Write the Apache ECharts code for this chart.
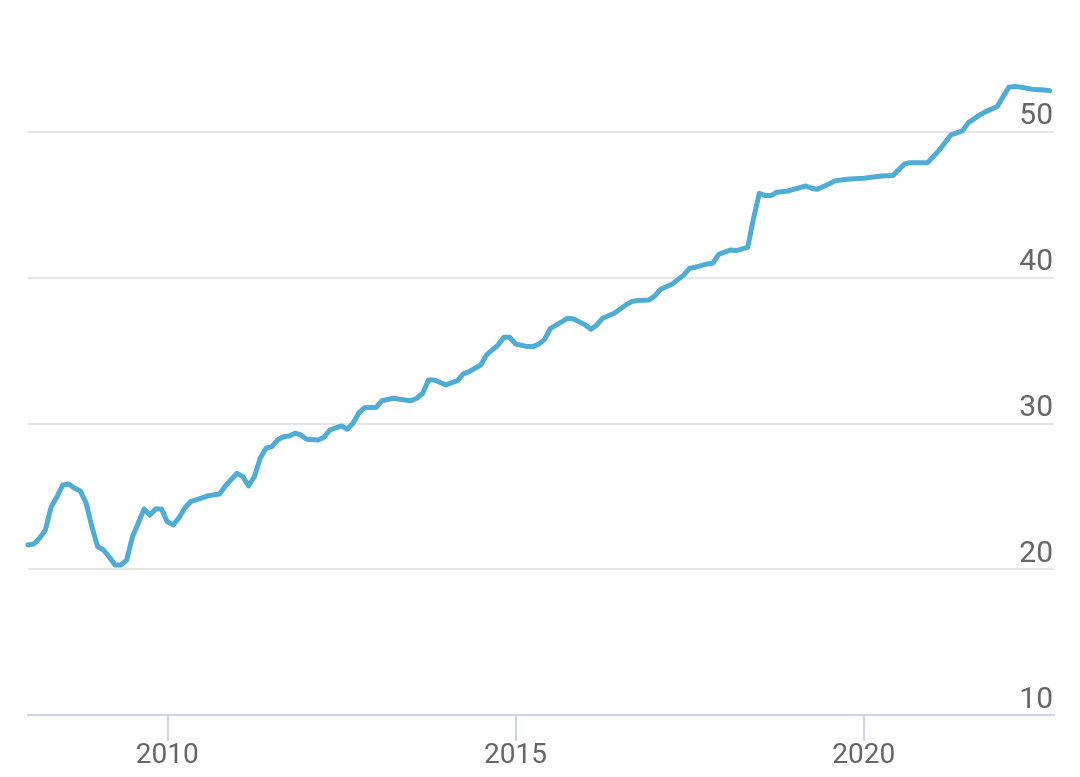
<!DOCTYPE html>
<html>
<head>
<meta charset="utf-8">
<script src="https://cdn.jsdelivr.net/npm/echarts@6/dist/echarts.min.js"></script>
<style>
html,body{margin:0;padding:0;background:#fff;}
#chart{width:1080px;height:777px;}
</style>
</head>
<body>
<div id="chart"></div>
<script>
const months = ['2008-01','2008-02','2008-03','2008-04','2008-05','2008-06','2008-07','2008-08','2008-09','2008-10','2008-11','2008-12',
'2009-01','2009-02','2009-03','2009-04','2009-05','2009-06','2009-07','2009-08','2009-09','2009-10','2009-11','2009-12',
'2010-01','2010-02','2010-03','2010-04','2010-05','2010-07','2010-08','2010-10','2010-11',
'2011-01','2011-02','2011-03','2011-04','2011-05','2011-06','2011-07','2011-08','2011-09','2011-10','2011-11','2011-12',
'2012-01','2012-03','2012-04','2012-05','2012-07','2012-08','2012-09','2012-10','2012-11',
'2013-01','2013-02','2013-04','2013-05','2013-07','2013-08','2013-09','2013-10','2013-11',
'2014-01','2014-03','2014-04','2014-05','2014-07','2014-08','2014-10','2014-11','2014-12',
'2015-01','2015-03','2015-04','2015-05','2015-06','2015-07','2015-09','2015-10','2015-11',
'2016-01','2016-02','2016-03','2016-04','2016-06','2016-08','2016-09','2016-10','2016-12',
'2017-01','2017-02','2017-04','2017-06','2017-07','2017-08','2017-10','2017-11','2017-12',
'2018-02','2018-03','2018-05','2018-06','2018-07','2018-08','2018-09','2018-10','2018-12',
'2019-03','2019-04','2019-05','2019-07','2019-08','2019-10',
'2020-01','2020-04','2020-06','2020-08','2020-09','2020-12',
'2021-02','2021-04','2021-06','2021-07','2021-09','2021-10','2021-12',
'2022-01','2022-02','2022-03','2022-04','2022-06','2022-08','2022-09'];

const values = [21.66,21.73,22.14,22.69,24.29,24.98,25.78,25.85,25.57,25.37,24.55,22.92,
21.55,21.32,20.84,20.29,20.29,20.63,22.23,23.17,24.13,23.72,24.13,24.13,
23.26,23.04,23.52,24.20,24.63,24.89,25.03,25.16,25.71,
26.58,26.35,25.71,26.35,27.61,28.30,28.41,28.87,29.09,29.14,29.33,29.21,
28.92,28.87,29.05,29.55,29.83,29.60,30.01,30.72,31.08,
31.11,31.56,31.73,31.66,31.56,31.73,32.07,32.98,32.98,
32.64,32.94,33.40,33.55,34.01,34.70,35.39,35.91,35.91,
35.45,35.27,35.27,35.45,35.77,36.52,36.98,37.22,37.17,
36.76,36.46,36.76,37.22,37.56,38.13,38.36,38.43,38.47,
38.75,39.21,39.57,40.19,40.65,40.72,40.94,40.99,41.60,
41.90,41.86,42.08,44.07,45.79,45.63,45.63,45.86,45.95,
46.29,46.13,46.06,46.43,46.64,46.75,
46.82,46.98,47.00,47.80,47.89,47.89,
48.76,49.79,50.07,50.64,51.17,51.39,51.74,
52.42,53.07,53.11,53.07,52.93,52.88,52.83];

const xTickYears = [2010, 2015, 2020];
const yTicks = [10, 20, 30, 40, 50];

function toYear(s){ const p = s.split('-'); return +p[0] + (+p[1]-1)/12; }
const seriesData = months.map((m,i)=>[toYear(m), values[i]]);

const chart = echarts.init(document.getElementById('chart'), null, {renderer:'canvas'});
chart.setOption({
  animation:false,
  backgroundColor:'#ffffff',
  grid:{left:28, right:26, top:59, bottom:62, containLabel:false},
  xAxis:{
    type:'value', min:2008, max:2022.73,
    axisLine:{show:true, lineStyle:{color:'#ccd6eb', width:2}},
    axisTick:{show:true, length:26, lineStyle:{color:'#ccd6eb', width:2}, customValues:xTickYears},
    axisLabel:{customValues:xTickYears, formatter:v=>String(v), color:'#666666', fontFamily:'Roboto', fontSize:28, margin:27},
    splitLine:{show:false}
  },
  yAxis:{
    type:'value', position:'right', min:10, max:55, interval:10,
    axisLine:{show:false}, axisTick:{show:false},
    axisLabel:{inside:true, customValues:yTicks, color:'#666666', fontFamily:'Roboto', fontSize:30, margin:1, verticalAlign:'bottom', padding:[0,0,0,0]},
    splitLine:{show:true, showMaxLine:false, lineStyle:{color:'#e6e6e6', width:2}}
  },
  series:[{
    type:'line', data:seriesData, showSymbol:false, smooth:false,
    lineStyle:{color:'#4eacd5', width:5, join:'round', cap:'round'}
  }]
});
</script>
</body>
</html>
